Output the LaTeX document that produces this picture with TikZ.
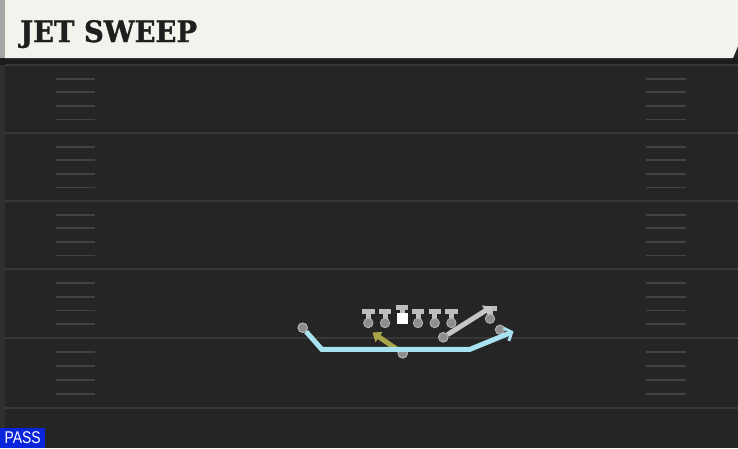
\documentclass[tikz,border=0pt]{standalone}
\usepackage{fontspec}
\usetikzlibrary{arrows.meta}
\newfontfamily\titlefont{DejaVu Serif Bold}[FakeBold=1.2]
\newfontfamily\passfont{Liberation Sans}
\definecolor{cream}{HTML}{F4F2EC}
\definecolor{fieldbg}{HTML}{252525}
\definecolor{edgecol}{HTML}{2F2F2F}
\definecolor{bandcol}{HTML}{1C1C1C}
\definecolor{yardcol}{HTML}{383838}
\definecolor{hashcol}{HTML}{424242}
\definecolor{tcol}{HTML}{BEBEBE}
\definecolor{pcol}{HTML}{8E8E8E}
\definecolor{routeblue}{HTML}{A8E2F0}
\definecolor{routeolive}{HTML}{A8A548}
\definecolor{routegray}{HTML}{C6C6C6}
\definecolor{passblue}{HTML}{0A24DC}
\definecolor{titlecol}{HTML}{1E1E1E}
\begin{document}
\begin{tikzpicture}[x=1pt,y=-1pt,
  player/.style={circle, fill=pcol, draw=tcol!80!pcol, line width=0.8pt, minimum size=9.5pt, inner sep=0pt},
  centerbox/.style={rectangle, fill=white, minimum size=10.5pt, inner sep=0pt},
  tbar/.style={draw=tcol, line width=5pt},
  yardline/.style={draw=yardcol, line width=2pt},
  hashline/.style={draw=hashcol, line width=1.8pt},
  route/.style={line width=5pt, line join=miter}
]
\useasboundingbox (0,0) rectangle (738,448);
% field
\fill[fieldbg] (0,0) rectangle (738,448);
\fill[edgecol] (0,58) rectangle (5,448);
\fill[bandcol] (0,58) rectangle (738,65);
\foreach \y in {65,133,201,269,338,408} {
  \draw[yardline] (5,\y) -- (738,\y);
}
\foreach \y in {78.6,92.2,105.8,119.4,146.6,160.2,173.8,187.4,214.6,228.2,241.8,255.4,282.8,296.6,310.4,324.2,352,366,380,394} {
  \draw[hashline] (56,\y) -- (95,\y);
  \draw[hashline] (646,\y) -- (686,\y);
}
% header
\fill[cream] (5,0) -- (738,0) -- (738,46) -- (733,58) -- (5,58) -- cycle;
\fill[gray!70] (0,0) rectangle (5,58);
\node[anchor=base west, inner sep=0pt, text=titlecol,
  font=\titlefont\fontsize{29.5}{30}\selectfont] (title) at (20,42) {\scalebox{0.93}[1]{JET SWEEP}};
% pass label
\node[anchor=south west, fill=passblue, text=white, minimum width=45pt, minimum height=20pt, inner sep=0pt,
  font=\passfont\fontsize{17}{17}\selectfont] (pass) at (0,448) {\scalebox{0.82}[1]{PASS}};
% line blocks
\foreach \n/\x in {lt/368.3, lg/385, rg/418, rt/434.7, te/451.4} {
  \draw[tbar] (\x,322) -- (\x,311.5);
  \draw[tbar] (\x-6.2,311.5) -- (\x+6.2,311.5);
  \node[player] (\n) at (\x,323) {};
}
\draw[tbar] (402.3,316) -- (402.3,307);
\draw[tbar] (396.2,307) -- (408.4,307);
\node[centerbox] (c) at (402.3,318.3) {};
% wing player block
\draw[tbar] (490,318) -- (490,308);
\draw[tbar] (483.5,308) -- (496.5,308);
\node[player] (wing) at (490,318.7) {};
% gray route
\node[player] (slot) at (443.3,337.3) {};
\coordinate (grayend) at (492,306.5);
\draw[route, draw=routegray, -{Triangle[length=8pt,width=12pt]}] (slot) -- (grayend);
\node[player] (slot) at (443.3,337.3) {};
% olive route
\node[player] (back) at (402.7,353.3) {};
\coordinate (oliveend) at (372.5,332.5);
\draw[route, draw=routeolive, -{Triangle[length=8pt,width=12pt]}] (back) -- (oliveend);
\node[player] (back) at (402.7,353.3) {};
% blue jet route
\node[player] (wide) at (500,329.7) {};
\node[player] (jet) at (302.7,327.7) {};
\coordinate (b1) at (321.7,349.3);
\coordinate (b2) at (470,349.3);
\coordinate (blueend) at (513.5,331.5);
\draw[route, draw=routeblue, -{Straight Barb[length=6pt,width=14pt,line width=2.8pt]}] (jet) -- (b1) -- (b2) -- (blueend);
\node[player] (jet) at (302.7,327.7) {};
\end{tikzpicture}
\end{document}
